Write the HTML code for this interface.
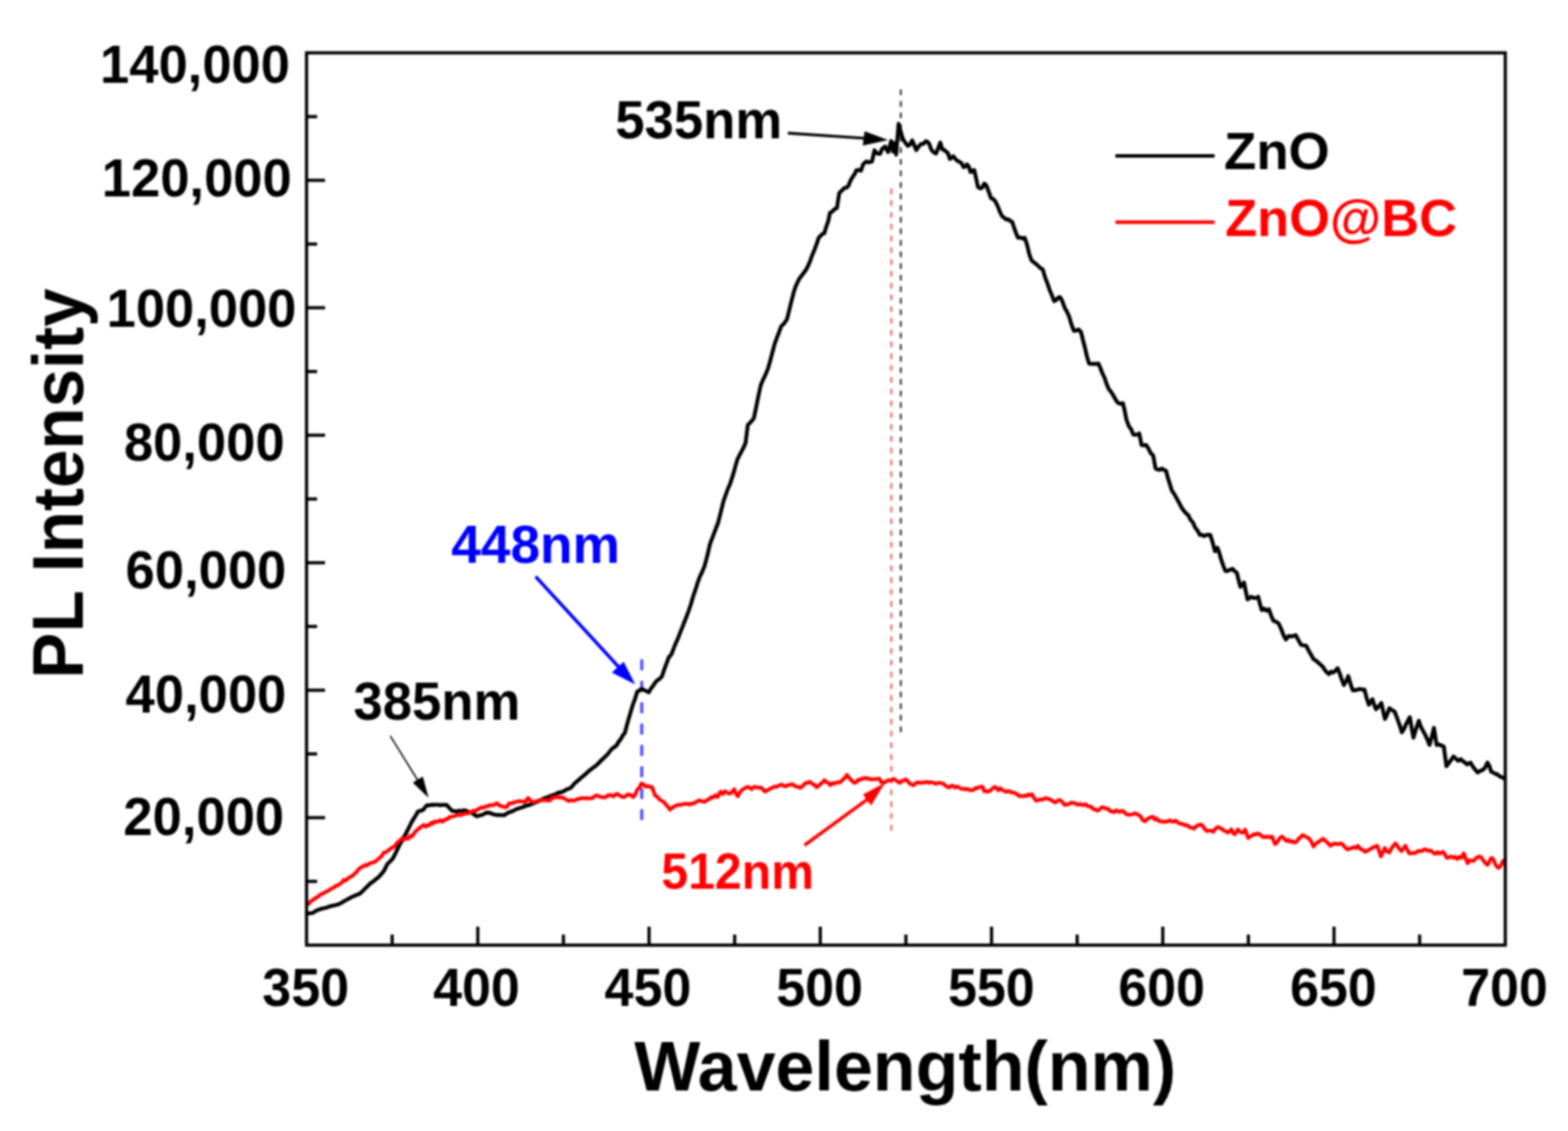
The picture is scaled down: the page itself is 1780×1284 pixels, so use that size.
<!DOCTYPE html>
<html><head><meta charset="utf-8"><style>
html,body{margin:0;padding:0;background:#fff;}
svg{display:block;filter:blur(0.9px);}
text{font-family:"Liberation Sans",Arial,sans-serif;font-weight:bold;}
</style></head><body>
<svg width="1780" height="1284" viewBox="0 0 1780 1284">
<rect width="1780" height="1284" fill="#fff"/>
<!-- dashed guide lines -->
<line x1="1022.6" y1="101.5" x2="1022.6" y2="832" stroke="#333" stroke-width="2.2" stroke-dasharray="6.5 6.65"/>
<line x1="1011.8" y1="213.9" x2="1011.8" y2="943.5" stroke="#f06060" stroke-width="2.2" stroke-dasharray="6.5 6.88"/>
<line x1="728.5" y1="748.6" x2="728.5" y2="931" stroke="#4d4dff" stroke-width="3.5" stroke-dasharray="12.5 11.8"/>
<!-- curves -->
<polyline points="348.7,1037.0 351.2,1036.9 353.7,1036.6 356.2,1035.8 359.9,1033.3 362.2,1032.7 364.4,1031.9 366.7,1031.2 368.9,1030.8 371.2,1030.2 373.9,1029.2 376.7,1028.3 379.4,1028.0 382.2,1027.2 384.9,1026.4 387.4,1025.1 389.9,1023.4 392.3,1022.2 394.8,1020.8 397.3,1019.6 399.8,1018.0 402.3,1017.2 404.8,1015.9 407.3,1015.2 409.8,1013.4 412.3,1011.0 414.8,1008.4 417.3,1006.2 419.8,1003.4 422.3,1001.6 424.8,999.9 427.2,997.7 429.7,995.9 431.8,993.5 433.9,991.2 436.0,988.4 439.7,981.0 442.8,978.0 445.9,974.7 447.8,971.0 449.7,967.3 452.1,962.0 454.6,957.3 456.7,953.7 458.8,949.9 460.9,946.1 464.0,940.0 467.1,933.6 469.6,929.5 472.1,925.6 474.6,921.2 477.1,920.5 479.6,919.9 482.1,917.2 484.5,914.3 487.0,914.3 489.5,913.6 492.0,913.7 494.5,913.6 497.0,913.6 499.5,914.2 502.0,913.7 504.5,913.9 507.0,913.7 510.1,917.3 513.2,920.5 515.7,920.8 518.2,921.2 521.1,920.4 524.0,920.6 526.9,919.9 529.4,920.6 531.9,921.7 534.4,922.4 537.2,923.9 540.0,926.1 541.8,926.7 544.2,925.8 546.5,925.3 548.9,924.5 551.2,923.0 553.6,922.5 556.4,923.0 559.1,924.1 561.9,924.9 564.5,925.2 567.2,925.2 569.9,925.4 572.5,925.5 574.9,923.8 577.2,922.5 579.6,921.7 581.9,920.9 584.3,919.6 586.6,918.4 589.0,917.8 591.4,916.8 593.7,916.4 596.0,915.0 598.4,914.6 600.8,913.6 603.1,913.1 605.7,911.9 608.2,910.7 610.8,909.6 613.4,908.7 615.9,907.3 618.5,906.0 621.1,905.4 623.7,904.1 626.3,903.1 628.9,902.3 631.5,901.3 633.8,899.8 636.2,899.7 638.5,898.9 640.9,897.8 643.2,896.2 645.6,895.5 648.0,894.2 650.4,891.7 652.7,888.9 655.1,887.1 657.8,884.7 660.6,882.2 663.3,880.1 666.2,877.3 669.2,874.7 672.0,872.5 674.7,870.7 677.5,868.3 680.5,865.4 683.4,862.4 685.6,860.3 687.8,858.2 690.0,856.0 693.0,852.0 696.0,849.0 698.0,847.8 700.0,846.0 702.4,842.0 704.7,839.2 707.0,834.9 709.4,832.0 711.7,822.9 714.0,814.8 716.4,806.8 718.7,799.2 721.0,793.1 723.4,785.2 725.7,784.0 728.0,782.1 730.9,783.1 733.7,784.6 736.6,786.0 738.9,781.8 741.3,778.7 743.6,775.1 746.2,772.4 748.8,770.7 751.4,768.0 754.0,760.1 756.6,753.3 759.2,746.2 762.3,742.7 764.8,736.0 767.3,729.9 769.8,724.3 772.3,717.8 774.8,711.5 777.1,705.6 779.5,699.6 781.8,693.4 784.1,686.6 786.7,677.6 789.3,670.3 791.9,661.7 794.5,654.6 797.1,649.2 799.7,643.0 802.8,631.5 805.9,618.1 808.2,611.8 810.6,605.4 812.9,599.4 815.3,593.1 818.4,580.7 821.5,568.2 823.8,562.0 826.1,555.4 828.5,550.1 830.8,543.3 832.9,536.5 835.0,528.7 837.1,521.5 839.4,517.0 841.8,512.5 844.1,508.0 846.4,502.8 848.9,482.6 851.2,480.2 853.5,477.7 855.8,474.8 858.4,462.2 861.0,449.3 863.6,437.4 866.4,430.7 869.2,425.0 872.0,418.0 874.4,409.4 876.9,399.9 879.3,390.7 881.9,383.5 884.4,377.1 887.0,370.1 889.1,368.4 891.3,365.6 893.4,362.4 896.0,351.8 898.5,341.8 901.1,331.6 903.2,325.3 905.4,320.4 907.5,316.2 910.1,312.9 912.7,309.4 915.3,305.9 917.4,301.5 919.6,296.6 921.7,290.5 924.3,284.3 926.8,277.8 929.4,269.9 931.5,267.8 933.7,265.6 935.8,264.8 937.9,257.5 940.1,251.5 942.2,241.6 944.8,240.2 947.4,237.3 950.0,236.5 952.8,219.0 955.6,216.4 958.4,213.4 960.8,213.1 963.3,210.6 965.4,205.2 967.5,201.5 970.0,197.9 972.4,193.1 974.8,193.0 977.3,193.8 980.1,186.1 983.6,183.3 985.7,184.3 987.8,183.9 989.9,183.3 992.7,170.6 995.5,174.1 999.1,174.8 1001.2,169.2 1004.7,166.4 1008.2,172.7 1011.7,160.1 1013.8,172.0 1015.9,162.2 1017.3,175.6 1020.1,140.5 1022.9,151.0 1025.0,158.0 1027.8,162.1 1030.6,165.7 1033.0,164.2 1035.5,159.4 1037.8,164.6 1040.1,170.4 1042.8,166.4 1045.6,163.4 1048.3,163.3 1051.0,160.2 1053.0,161.1 1054.9,163.4 1057.2,169.8 1059.6,172.7 1062.7,174.3 1065.1,168.0 1067.4,161.8 1069.7,169.6 1071.8,170.1 1073.9,172.2 1076.0,173.5 1078.3,180.5 1080.2,179.1 1082.2,177.4 1084.2,179.9 1086.1,182.1 1088.8,183.5 1091.5,185.2 1093.9,189.8 1095.8,189.1 1097.8,186.7 1099.8,189.1 1101.7,195.3 1103.8,193.7 1105.9,193.0 1108.1,202.5 1110.2,212.4 1113.3,214.0 1115.2,212.7 1117.2,208.5 1119.2,209.7 1121.1,214.0 1123.0,219.2 1125.0,224.9 1127.5,225.9 1130.0,228.8 1132.5,233.8 1135.1,240.4 1137.6,245.5 1139.9,247.1 1142.2,249.2 1144.5,248.9 1146.8,250.8 1149.1,251.9 1151.3,258.8 1153.4,264.6 1155.6,269.9 1158.2,269.6 1160.7,270.8 1163.3,269.9 1165.9,277.7 1168.4,288.5 1171.0,295.6 1173.6,297.8 1176.1,299.6 1178.7,302.0 1181.2,304.5 1183.8,305.9 1186.4,315.0 1188.9,321.2 1191.5,329.0 1194.1,335.2 1196.7,341.9 1198.9,340.8 1201.0,338.1 1203.2,337.2 1205.8,341.5 1208.5,349.1 1211.2,353.8 1213.8,359.7 1216.4,368.6 1219.1,375.6 1221.8,375.2 1224.4,374.1 1227.1,376.9 1229.4,386.1 1231.7,394.9 1234.0,405.0 1236.3,412.7 1239.0,413.1 1241.6,412.9 1244.2,413.2 1246.9,412.7 1249.3,418.2 1251.7,424.4 1254.0,429.1 1256.4,436.4 1258.8,441.8 1261.5,445.1 1264.1,449.4 1266.8,454.3 1269.4,457.7 1272.1,458.4 1274.7,457.7 1276.7,466.1 1278.7,476.2 1281.3,483.5 1284.0,487.2 1286.6,493.4 1288.8,493.6 1291.1,493.3 1293.3,492.1 1295.9,505.3 1298.6,505.5 1301.2,505.3 1303.8,509.4 1306.5,514.7 1309.1,517.2 1311.8,531.8 1314.2,533.1 1316.6,533.2 1318.9,532.0 1321.3,533.4 1323.7,534.5 1325.9,542.9 1328.1,549.7 1330.3,557.0 1333.0,560.7 1335.6,565.5 1338.3,570.3 1340.9,575.5 1343.6,579.5 1346.2,582.5 1348.9,584.8 1351.5,590.1 1354.2,593.1 1356.8,599.1 1359.5,602.4 1362.1,607.3 1364.5,607.1 1366.9,608.7 1369.2,607.4 1371.6,607.2 1374.0,607.3 1376.7,616.4 1379.3,625.8 1382.0,621.8 1384.3,628.1 1386.6,636.3 1388.9,642.8 1391.2,648.3 1393.9,648.0 1396.5,646.7 1399.2,645.7 1401.6,648.7 1404.0,650.1 1406.0,658.1 1408.1,666.3 1410.2,664.2 1412.2,661.3 1414.2,671.2 1416.2,680.5 1418.2,679.1 1420.3,677.5 1423.0,678.8 1425.7,678.9 1428.4,677.5 1430.4,686.2 1432.4,692.7 1435.1,690.8 1437.8,693.4 1440.5,691.6 1443.0,698.8 1445.6,704.8 1448.6,705.9 1451.6,707.8 1454.3,713.9 1457.0,720.9 1459.7,726.1 1462.8,722.0 1465.5,722.6 1468.2,722.0 1470.9,721.0 1474.0,726.7 1477.0,732.2 1480.0,732.7 1483.0,733.2 1485.7,738.9 1488.4,743.3 1491.1,748.4 1493.6,749.7 1496.2,752.0 1498.8,754.4 1501.3,756.5 1503.8,760.3 1506.3,763.5 1508.7,765.3 1511.0,762.4 1513.4,763.5 1516.0,761.4 1518.5,758.5 1520.9,764.8 1523.2,771.5 1525.6,777.7 1528.1,773.7 1530.6,767.6 1533.2,776.7 1535.7,783.8 1538.3,783.5 1541.0,783.0 1543.6,782.1 1546.3,782.9 1548.9,782.8 1551.4,792.4 1553.9,800.0 1556.0,796.7 1558.0,793.9 1560.0,800.1 1562.0,805.1 1565.0,802.1 1568.1,798.0 1570.2,807.4 1572.2,816.2 1574.7,811.0 1577.2,804.0 1580.2,806.0 1583.3,808.1 1586.0,815.2 1588.7,822.7 1591.4,831.4 1593.7,827.8 1596.0,822.5 1598.2,818.3 1600.5,814.2 1602.5,826.5 1604.6,837.5 1607.6,827.2 1610.6,818.2 1613.0,825.1 1615.5,829.7 1617.9,834.2 1620.4,839.6 1622.8,845.6 1625.3,836.8 1627.8,826.3 1630.9,845.6 1633.6,845.3 1636.3,846.4 1639.0,847.6 1642.0,869.9 1644.7,866.2 1647.4,862.6 1650.1,858.7 1652.7,861.3 1655.2,863.8 1658.2,861.8 1660.6,864.1 1662.9,865.5 1665.3,867.8 1667.3,866.7 1669.4,865.8 1672.1,870.5 1674.8,873.8 1677.5,877.0 1680.5,875.1 1683.5,873.9 1686.0,871.2 1688.6,865.8 1690.7,869.3 1692.7,875.9 1695.0,877.0 1697.4,878.5 1699.7,879.0 1702.4,881.4 1705.2,882.4 1707.9,884.0" fill="none" stroke="#000" stroke-width="4.4" stroke-linejoin="round"/>
<polyline points="348.7,1026.4 350.7,1026.1 352.7,1023.1 354.7,1022.2 356.7,1020.6 358.7,1019.0 361.0,1018.2 363.3,1015.8 365.5,1015.0 367.8,1013.6 370.1,1012.2 372.4,1011.5 374.7,1009.7 377.0,1008.5 379.2,1007.3 381.5,1005.6 383.8,1005.0 386.1,1003.4 388.2,1001.7 390.4,998.9 392.5,999.7 394.7,997.5 396.8,995.9 399.0,995.0 401.1,993.4 403.3,991.3 405.5,989.1 407.6,986.4 409.8,984.7 412.1,983.8 414.5,982.0 416.8,982.6 419.2,980.2 421.5,979.8 423.9,979.0 426.2,978.0 428.6,976.0 431.0,973.7 433.3,972.0 435.7,967.9 438.1,967.6 440.3,965.8 442.5,964.2 444.6,962.4 446.8,961.7 449.0,959.4 450.9,956.6 452.7,955.4 454.6,953.6 456.8,951.5 459.0,953.1 461.2,951.2 463.4,952.3 465.6,948.8 467.8,949.7 469.9,946.2 472.1,943.6 474.6,941.4 477.1,939.5 479.6,937.4 481.5,936.7 483.3,938.6 485.4,936.7 487.5,937.0 489.6,934.0 491.6,935.0 493.7,932.4 495.8,933.0 497.9,932.5 499.9,931.0 502.0,932.8 504.1,931.7 506.1,929.9 508.2,929.9 510.4,927.3 512.6,927.3 514.8,926.9 517.0,926.1 519.1,924.8 521.1,925.4 523.2,925.5 525.3,924.3 527.3,923.6 529.4,923.6 531.5,923.4 533.5,921.7 535.6,921.9 537.7,920.2 539.7,921.0 541.8,919.0 544.2,918.0 546.5,916.6 548.9,916.9 551.2,915.6 553.6,915.5 555.7,914.0 557.8,914.1 559.8,914.2 561.9,913.1 564.3,911.9 566.6,914.4 569.0,915.0 571.3,915.7 573.7,916.6 575.7,915.6 577.6,912.3 579.6,911.9 582.0,911.8 584.3,910.5 586.6,910.2 589.0,909.6 591.4,909.7 593.7,910.0 596.1,910.7 597.9,907.8 599.6,906.0 601.4,908.0 603.1,909.6 605.5,910.9 607.9,909.8 610.2,909.3 612.6,908.4 615.0,908.8 617.3,907.9 619.6,908.8 622.0,908.4 624.4,908.9 626.8,905.2 629.1,905.8 631.5,904.2 633.8,905.3 636.2,905.2 638.5,905.4 640.9,906.7 643.2,908.0 645.6,909.4 648.0,908.4 650.4,908.9 652.7,908.7 655.1,907.2 657.4,907.1 659.8,906.0 661.8,906.2 663.9,906.5 666.0,906.0 668.0,906.6 670.4,906.2 672.8,906.0 675.1,903.8 677.5,903.1 679.5,903.8 681.6,904.7 683.7,904.8 685.7,905.4 688.1,904.7 690.5,902.5 692.5,903.2 694.4,902.6 696.4,904.2 698.8,901.9 701.1,901.3 703.1,903.0 705.0,904.1 707.0,904.8 709.0,904.7 710.9,903.0 712.9,901.9 714.9,903.0 716.8,902.5 718.8,904.8 721.1,902.1 723.5,896.4 725.9,894.1 728.2,889.5 730.5,890.3 732.9,893.0 735.3,892.5 737.6,893.3 740.0,893.3 741.8,897.8 743.6,903.1 746.1,904.3 748.5,907.4 751.0,909.0 753.5,910.3 755.9,913.6 758.3,916.0 760.7,919.3 762.8,917.1 764.9,915.9 767.0,914.8 769.2,913.8 771.5,913.7 773.8,913.7 776.0,912.6 778.4,912.7 780.7,912.5 783.1,913.5 785.3,912.0 787.4,912.5 789.6,910.6 791.7,909.7 793.9,908.5 796.6,909.6 799.3,910.3 801.3,909.4 803.3,907.7 805.4,907.2 807.4,904.9 809.8,905.5 812.2,902.6 814.6,904.9 816.4,901.7 818.2,898.7 820.5,901.4 822.9,898.3 825.2,899.8 827.6,900.9 829.9,900.4 831.7,898.2 833.5,896.0 835.5,901.1 837.5,904.0 839.5,900.3 841.4,897.7 843.4,896.0 846.1,894.5 848.8,893.3 851.0,894.1 853.3,896.0 855.1,893.8 856.9,893.3 859.3,894.1 861.6,894.1 864.0,894.2 866.2,896.5 868.5,898.7 870.6,897.2 872.7,896.5 874.8,895.1 876.9,894.3 879.0,893.0 881.1,893.3 883.2,892.4 885.3,891.4 887.4,890.6 889.6,892.3 891.9,892.8 893.9,891.3 896.0,891.4 898.0,890.5 900.0,890.3 902.2,892.5 904.5,893.0 906.7,893.7 908.8,894.4 910.8,892.9 912.9,890.3 915.0,888.7 917.0,888.9 919.1,887.5 921.1,888.8 923.0,890.5 925.0,891.3 927.0,893.7 929.2,892.2 931.5,889.9 933.8,888.1 936.0,885.8 938.2,887.9 940.5,888.9 942.7,891.5 944.8,889.0 946.8,889.8 948.9,888.7 951.0,888.1 953.0,888.5 955.1,887.0 957.1,884.5 959.2,883.3 961.2,879.7 963.3,882.1 965.5,884.8 967.6,886.9 969.7,888.7 972.0,888.1 974.2,885.1 976.5,885.7 978.7,883.6 980.9,883.8 983.2,883.0 985.4,884.3 987.7,884.2 989.9,885.0 992.1,884.6 994.4,884.4 996.6,884.2 998.5,884.2 1000.3,888.1 1002.2,888.1 1004.1,888.5 1006.0,887.2 1007.9,885.8 1009.9,885.9 1011.8,886.2 1013.8,884.3 1015.7,884.7 1017.6,886.6 1019.4,887.4 1021.3,888.7 1023.6,886.6 1025.8,886.3 1028.1,884.7 1030.3,886.7 1032.6,889.5 1034.8,890.6 1037.1,891.5 1039.3,889.3 1041.6,888.1 1043.8,888.7 1046.0,888.7 1048.3,888.6 1050.5,888.1 1052.8,887.7 1055.0,888.8 1057.3,888.0 1059.5,888.5 1061.8,889.8 1064.0,889.3 1066.3,888.6 1068.5,889.2 1070.8,889.6 1073.0,891.7 1075.3,893.1 1077.5,894.1 1079.8,892.0 1082.0,892.0 1084.3,894.1 1086.5,892.8 1088.8,894.0 1091.0,895.4 1093.3,895.6 1095.2,895.4 1097.2,896.4 1099.1,895.6 1101.1,897.1 1103.1,897.0 1105.1,896.8 1107.2,894.7 1109.2,894.8 1111.2,893.7 1113.2,893.4 1115.3,893.0 1117.3,898.3 1119.4,898.0 1121.5,898.9 1124.0,897.7 1126.4,895.5 1128.9,893.4 1131.1,894.5 1133.2,897.1 1135.4,894.7 1137.6,896.8 1139.7,897.6 1141.9,898.9 1143.8,898.3 1145.6,898.0 1147.8,899.7 1150.0,899.7 1152.3,900.3 1154.5,901.6 1156.7,903.6 1158.8,903.7 1161.0,903.8 1163.1,903.4 1165.2,903.8 1167.3,901.8 1169.5,902.8 1171.6,901.7 1173.9,905.9 1176.2,909.1 1178.6,908.4 1181.0,907.4 1183.5,908.1 1185.9,906.3 1188.3,906.3 1190.8,907.3 1193.2,908.1 1195.7,910.1 1198.2,910.9 1200.6,908.8 1203.1,908.2 1205.0,909.7 1206.8,911.7 1208.7,913.8 1210.9,913.2 1213.1,913.1 1215.4,911.3 1217.6,911.3 1219.8,911.9 1221.9,912.8 1224.0,913.7 1226.1,912.5 1228.2,913.8 1230.2,913.8 1232.3,912.9 1234.4,914.9 1236.5,915.6 1238.8,915.9 1241.1,918.6 1243.4,919.0 1245.7,920.3 1248.2,919.0 1250.6,916.6 1253.1,916.5 1255.6,918.2 1258.1,918.1 1260.6,921.2 1262.8,921.2 1264.9,922.0 1267.0,919.8 1269.2,921.3 1271.3,921.6 1273.5,920.3 1276.0,921.7 1278.5,924.3 1281.0,924.9 1283.2,925.0 1285.4,924.5 1287.7,923.3 1289.9,924.0 1292.1,924.9 1294.8,927.0 1297.6,931.4 1299.9,932.4 1302.2,929.8 1304.6,928.5 1306.9,927.7 1309.0,927.4 1311.1,930.6 1313.2,929.1 1315.4,932.0 1317.5,932.5 1319.6,932.5 1321.7,933.2 1323.9,932.4 1326.0,932.6 1328.2,931.2 1330.4,932.5 1332.5,933.0 1334.7,931.4 1336.6,933.3 1338.4,934.7 1340.3,935.1 1342.5,935.3 1344.6,936.9 1346.8,936.6 1349.0,937.8 1351.1,939.5 1353.3,939.7 1355.6,940.8 1357.9,937.9 1360.2,937.0 1362.5,936.0 1365.0,936.9 1367.5,941.1 1370.0,943.4 1372.5,943.0 1374.9,942.9 1377.4,944.4 1380.2,940.4 1382.9,938.8 1385.1,940.2 1387.3,941.1 1389.6,943.2 1391.8,943.8 1394.0,945.3 1395.9,943.4 1397.8,941.6 1399.7,945.5 1401.5,947.1 1403.3,945.0 1405.2,941.6 1407.6,944.1 1410.0,945.3 1411.8,944.7 1413.5,941.8 1415.2,946.8 1417.0,951.4 1419.1,949.6 1421.2,948.7 1423.2,947.0 1425.3,947.5 1427.4,946.2 1429.6,947.0 1431.8,948.8 1433.9,950.1 1436.1,950.5 1438.1,949.6 1440.0,950.2 1442.0,950.8 1444.0,949.6 1445.7,954.0 1447.4,958.3 1449.4,956.9 1451.3,953.8 1453.3,951.0 1455.3,949.6 1457.9,952.1 1460.5,954.9 1462.8,953.5 1465.0,955.8 1467.3,955.0 1469.5,956.6 1471.8,955.7 1474.1,952.1 1476.5,950.6 1478.8,947.9 1480.8,949.2 1482.7,949.9 1484.6,951.4 1486.6,952.2 1488.8,956.0 1491.0,961.0 1493.3,958.4 1495.5,956.3 1497.8,955.3 1500.0,953.3 1502.3,952.2 1504.2,954.4 1506.2,955.9 1508.1,957.6 1510.1,960.1 1512.4,959.0 1514.7,957.5 1516.9,958.2 1519.2,958.4 1521.5,957.5 1523.7,958.1 1525.8,960.7 1528.0,963.2 1530.2,964.4 1532.5,963.0 1534.7,962.8 1537.0,961.5 1539.2,962.9 1541.5,960.1 1543.5,963.0 1545.4,964.5 1547.3,964.7 1549.3,967.0 1551.6,966.4 1554.0,964.6 1556.3,963.8 1558.6,961.9 1561.0,961.4 1563.3,960.1 1565.4,965.6 1567.6,972.3 1569.8,967.7 1572.0,962.7 1574.6,966.7 1577.2,967.9 1579.5,963.3 1581.9,959.9 1584.2,957.5 1586.5,960.8 1588.8,963.9 1591.1,966.2 1593.3,962.8 1595.5,960.1 1597.7,964.9 1599.8,968.8 1602.0,968.7 1604.2,968.3 1606.3,968.6 1608.5,967.0 1610.6,966.0 1612.7,966.5 1614.8,965.6 1616.9,964.4 1619.0,964.4 1621.2,965.9 1623.3,965.5 1625.5,966.5 1627.7,968.8 1629.8,969.3 1631.9,967.2 1633.9,969.1 1636.0,968.2 1638.1,967.0 1640.3,970.1 1642.5,974.0 1644.9,973.3 1647.2,972.2 1649.6,973.9 1651.9,972.7 1654.3,975.3 1656.6,972.6 1659.0,974.0 1661.7,968.8 1663.8,974.5 1666.0,980.1 1668.3,976.6 1670.7,977.2 1673.0,977.3 1675.3,974.5 1677.7,972.9 1680.0,972.3 1682.2,974.3 1684.3,977.4 1686.4,980.2 1688.6,981.9 1690.8,977.8 1693.0,974.0 1695.0,975.1 1696.9,979.9 1698.8,983.3 1700.8,985.3 1703.4,983.3 1706.1,977.5 1707.8,976.6" fill="none" stroke="#f00" stroke-width="4.2" stroke-linejoin="round"/>
<!-- frame -->
<g stroke="#000" stroke-width="3.6" fill="none">
<rect x="348" y="60" width="1360.8" height="1013"/>
<line x1="445.2" y1="1073" x2="445.2" y2="1061"/>
<line x1="542.4" y1="1073" x2="542.4" y2="1052"/>
<line x1="639.6" y1="1073" x2="639.6" y2="1061"/>
<line x1="736.8" y1="1073" x2="736.8" y2="1052"/>
<line x1="834.0" y1="1073" x2="834.0" y2="1061"/>
<line x1="931.2" y1="1073" x2="931.2" y2="1052"/>
<line x1="1028.4" y1="1073" x2="1028.4" y2="1061"/>
<line x1="1125.6" y1="1073" x2="1125.6" y2="1052"/>
<line x1="1222.8" y1="1073" x2="1222.8" y2="1061"/>
<line x1="1320.0" y1="1073" x2="1320.0" y2="1052"/>
<line x1="1417.2" y1="1073" x2="1417.2" y2="1061"/>
<line x1="1514.4" y1="1073" x2="1514.4" y2="1052"/>
<line x1="1611.6" y1="1073" x2="1611.6" y2="1061"/>
<line x1="348" y1="1000.6" x2="360" y2="1000.6"/>
<line x1="348" y1="928.3" x2="369" y2="928.3"/>
<line x1="348" y1="855.9" x2="360" y2="855.9"/>
<line x1="348" y1="783.6" x2="369" y2="783.6"/>
<line x1="348" y1="711.2" x2="360" y2="711.2"/>
<line x1="348" y1="638.9" x2="369" y2="638.9"/>
<line x1="348" y1="566.5" x2="360" y2="566.5"/>
<line x1="348" y1="494.1" x2="369" y2="494.1"/>
<line x1="348" y1="421.8" x2="360" y2="421.8"/>
<line x1="348" y1="349.4" x2="369" y2="349.4"/>
<line x1="348" y1="277.1" x2="360" y2="277.1"/>
<line x1="348" y1="204.7" x2="369" y2="204.7"/>
<line x1="348" y1="132.4" x2="360" y2="132.4"/>
</g>
<!-- texts -->
<text transform="translate(113.59,93.95) scale(0.9940,1.0300)" font-size="60" fill="#000">140,000</text>
<text transform="translate(115.59,223.30) scale(0.9940,1.0300)" font-size="60" fill="#000">120,000</text>
<text transform="translate(120.99,371.25) scale(0.9940,1.0300)" font-size="60" fill="#000">100,000</text>
<text transform="translate(140.69,523.15) scale(0.9940,1.0300)" font-size="60" fill="#000">80,000</text>
<text transform="translate(142.59,668.45) scale(0.9940,1.0300)" font-size="60" fill="#000">60,000</text>
<text transform="translate(142.59,809.35) scale(0.9940,1.0300)" font-size="60" fill="#000">40,000</text>
<text transform="translate(140.09,947.50) scale(0.9940,1.0300)" font-size="60" fill="#000">20,000</text>
<text transform="translate(297.82,1142.20) scale(1.0000,1.0400)" font-size="59" fill="#000">350</text>
<text transform="translate(491.72,1142.20) scale(1.0000,1.0400)" font-size="59" fill="#000">400</text>
<text transform="translate(686.33,1142.20) scale(1.0000,1.0400)" font-size="59" fill="#000">450</text>
<text transform="translate(881.13,1142.20) scale(1.0000,1.0400)" font-size="59" fill="#000">500</text>
<text transform="translate(1076.13,1142.20) scale(1.0000,1.0400)" font-size="59" fill="#000">550</text>
<text transform="translate(1269.43,1142.20) scale(1.0000,1.0400)" font-size="59" fill="#000">600</text>
<text transform="translate(1464.43,1142.20) scale(1.0000,1.0400)" font-size="59" fill="#000">650</text>
<text transform="translate(1658.73,1142.20) scale(1.0000,1.0400)" font-size="59" fill="#000">700</text>
<text transform="translate(698.41,157.10) scale(0.9970,1.0200)" font-size="60" fill="#000">535nm</text>
<text transform="translate(512.19,639.30) scale(1.0000,1.0200)" font-size="60.5" fill="#0000ff">448nm</text>
<text transform="translate(401.30,817.20) scale(1.0000,1.0200)" font-size="59.8" fill="#000">385nm</text>
<text transform="translate(750.76,1008.80) scale(1.0000,1.0500)" font-size="54.7" fill="#f00">512nm</text>
<text transform="translate(1389.50,192.30) scale(1.0000,1.0000)" font-size="60" fill="#000">ZnO</text>
<text transform="translate(1390.71,268.00) scale(1.0000,1.0000)" font-size="59.6" fill="#f00">ZnO@BC</text>
<text transform="translate(719.90,1238.00) scale(1.0000,1.0100)" font-size="79.5" fill="#000">Wavelength(nm)</text>
<text transform="translate(93.7,770.39) rotate(-90) scale(1,1.03)" font-size="78.4" fill="#000">PL Intensity</text>
<!-- legend -->
<line x1="1266.2" y1="177.1" x2="1378.8" y2="177.1" stroke="#000" stroke-width="4"/>
<line x1="1266.2" y1="252.3" x2="1378.8" y2="252.3" stroke="#f00" stroke-width="4"/>
<!-- annotations -->
<line x1="894.4" y1="151.1" x2="982" y2="157" stroke="#000" stroke-width="3.2"/>
<polygon points="1008.2,159 981.5,148.9 979.4,165.2" fill="#000"/>
<line x1="608" y1="654.5" x2="704" y2="759" stroke="#0000ff" stroke-width="3.8"/>
<polygon points="721.1,777.1 694.5,763.6 708,751.2" fill="#0000ff"/>
<line x1="443" y1="835.4" x2="475" y2="887" stroke="#000" stroke-width="1.6"/>
<polygon points="486.5,905.8 468.6,888.5 480,881.5" fill="#000"/>
<line x1="913.2" y1="959.6" x2="986" y2="906.5" stroke="#f00" stroke-width="3.8"/>
<polygon points="1004.8,888.6 979.6,902 988.8,914.6" fill="#f00"/>
</svg>
</body></html>
